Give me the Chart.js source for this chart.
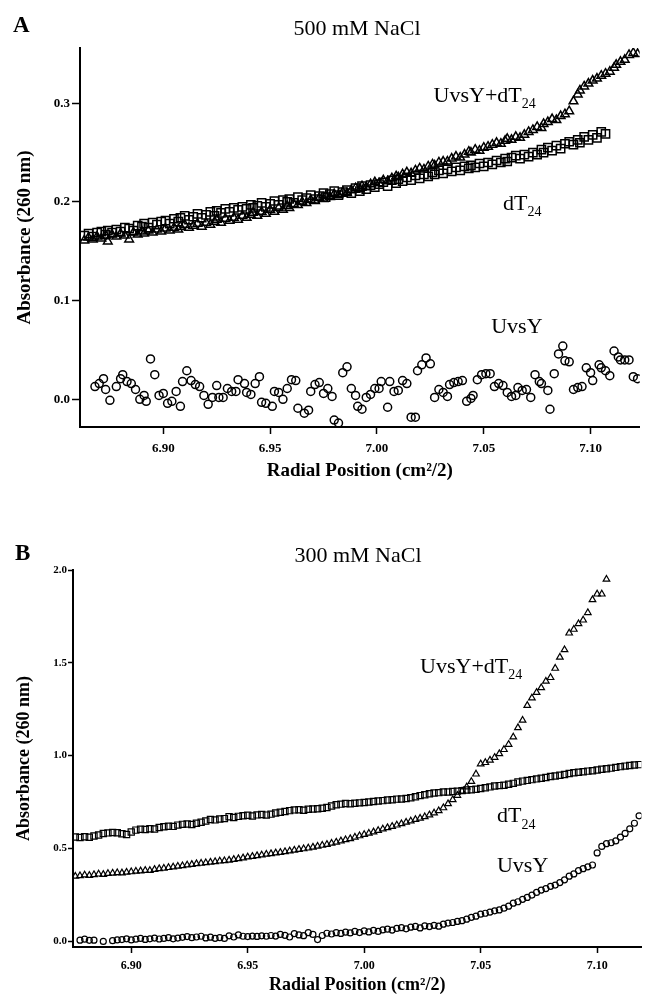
<!DOCTYPE html>
<html>
<head>
<meta charset="utf-8">
<script src="https://cdn.jsdelivr.net/npm/chart.js@4.4.1/dist/chart.umd.min.js"></script>
<style>
  html, body { margin: 0; padding: 0; background: #fff; }
  #wrap { position: relative; width: 647px; height: 998px; }
  canvas { position: absolute; left: 0; }
  #chartA { top: 0; }
  #chartB { top: 500px; }
</style>
</head>
<body>
<div id="wrap">
  <canvas id="chartA" width="647" height="500" style="width:647px;height:500px"></canvas>
  <canvas id="chartB" width="647" height="498" style="width:647px;height:498px"></canvas>
</div>
<script>
// ---- panel A : 500 mM NaCl ----
const ticksA_x = [6.90, 6.95, 7.00, 7.05, 7.10];
const ticksA_y = [0.0, 0.1, 0.2, 0.3];

// UvsY alone (circles)
const radialA_uvsy = [
  6.868, 6.870, 6.872, 6.873, 6.875, 6.878, 6.880, 6.881, 6.883, 6.885,
  6.887, 6.889, 6.891, 6.892, 6.894, 6.896, 6.898, 6.900, 6.902, 6.904,
  6.906, 6.908, 6.909, 6.911, 6.913, 6.915, 6.917, 6.919, 6.921, 6.923,
  6.925, 6.926, 6.928, 6.930, 6.932, 6.934, 6.935, 6.938, 6.939, 6.941,
  6.943, 6.945, 6.946, 6.948, 6.951, 6.952, 6.954, 6.956, 6.958, 6.960,
  6.962, 6.963, 6.966, 6.968, 6.969, 6.971, 6.973, 6.975, 6.977,
  6.979, 6.980, 6.982, 6.984, 6.986, 6.988, 6.990, 6.991, 6.993, 6.995,
  6.997, 6.999, 7.001, 7.002, 7.005, 7.006, 7.008, 7.010, 7.012, 7.014,
  7.016, 7.018, 7.019, 7.021, 7.023, 7.025, 7.027, 7.029, 7.031, 7.033,
  7.034, 7.036, 7.038, 7.040, 7.042, 7.044, 7.045, 7.047, 7.049, 7.051,
  7.053, 7.055, 7.057, 7.059, 7.061, 7.063, 7.065, 7.066, 7.068, 7.070,
  7.072, 7.074, 7.076, 7.077, 7.080, 7.081, 7.083, 7.085, 7.087, 7.088,
  7.090, 7.092, 7.094, 7.096, 7.098, 7.100, 7.101, 7.104, 7.105, 7.107,
  7.109, 7.111, 7.113, 7.114, 7.116, 7.118, 7.120, 7.122
];
const absA_uvsy = [
  0.013, 0.016, 0.021, 0.010, -0.001, 0.013, 0.021, 0.025, 0.018, 0.016,
  0.010, 0.000, 0.004, -0.002, 0.041, 0.025, 0.004, 0.006, -0.004, -0.002,
  0.008, -0.007, 0.018, 0.029, 0.019, 0.015, 0.013, 0.004, -0.005, 0.002,
  0.014, 0.002, 0.002, 0.011, 0.008, 0.008, 0.020, 0.016, 0.007, 0.005,
  0.016, 0.023, -0.003, -0.004, -0.007, 0.008, 0.007, 0.000, 0.011, 0.020,
  0.019, -0.009, -0.014, -0.011, 0.008, 0.015, 0.017, 0.006, 0.011,
  0.003, -0.021, -0.024, 0.027, 0.033, 0.011, 0.004, -0.007, -0.010, 0.002,
  0.005, 0.011, 0.011, 0.018, -0.008, 0.018, 0.008, 0.009, 0.019, 0.016,
  -0.018, -0.018, 0.029, 0.035, 0.042, 0.036, 0.002, 0.010, 0.007, 0.003,
  0.015, 0.017, 0.018, 0.019, -0.002, 0.001, 0.004, 0.020, 0.025, 0.026,
  0.026, 0.013, 0.016, 0.014, 0.007, 0.003, 0.004, 0.012, 0.009, 0.010,
  0.002, 0.025, 0.018, 0.016, 0.009, -0.010, 0.026, 0.046, 0.054, 0.039,
  0.038, 0.010, 0.012, 0.013, 0.032, 0.027, 0.019, 0.035, 0.032, 0.029,
  0.024, 0.049, 0.043, 0.040, 0.040, 0.040, 0.023, 0.021
];

// dT24 and UvsY+dT24 share these radial positions
const radialA = [
  6.863, 6.865, 6.867, 6.869, 6.871, 6.873, 6.874, 6.876, 6.878, 6.880,
  6.882, 6.884, 6.886, 6.888, 6.890, 6.891, 6.893, 6.895, 6.897, 6.899,
  6.901, 6.903, 6.905, 6.907, 6.908, 6.910, 6.912, 6.914, 6.916, 6.918,
  6.920, 6.922, 6.924, 6.925, 6.927, 6.929, 6.931, 6.933, 6.935, 6.937,
  6.939, 6.941, 6.942, 6.944, 6.946, 6.948, 6.950, 6.952, 6.954, 6.956,
  6.958, 6.959, 6.961, 6.963, 6.965, 6.967, 6.969, 6.971, 6.973, 6.975,
  6.976, 6.978, 6.980, 6.982, 6.984, 6.986, 6.988, 6.990, 6.992, 6.993,
  6.995, 6.997, 6.999, 7.001, 7.003, 7.005, 7.007, 7.009, 7.010, 7.012,
  7.014, 7.016, 7.018, 7.020, 7.022, 7.024, 7.026, 7.027, 7.029, 7.031,
  7.033, 7.035, 7.037, 7.039, 7.041, 7.043, 7.044, 7.046, 7.048, 7.050,
  7.052, 7.054, 7.056, 7.058, 7.060, 7.061, 7.063, 7.065, 7.067, 7.069,
  7.071, 7.073, 7.075, 7.077, 7.078, 7.080, 7.082, 7.084, 7.086, 7.088,
  7.090, 7.092, 7.094, 7.095, 7.097, 7.099, 7.101, 7.103, 7.105, 7.107,
  7.109, 7.111, 7.112, 7.114, 7.116, 7.118, 7.120, 7.122
];
const absA_dT24 = [
  0.166, 0.168, 0.165, 0.169, 0.170, 0.167, 0.171, 0.169, 0.172, 0.170,
  0.174, 0.173, 0.171, 0.176, 0.175, 0.178, 0.174, 0.179, 0.177, 0.180,
  0.181, 0.178, 0.183, 0.180, 0.184, 0.186, 0.182, 0.185, 0.188, 0.184,
  0.187, 0.190, 0.186, 0.191, 0.189, 0.193, 0.190, 0.194, 0.192, 0.195,
  0.193, 0.197, 0.194, 0.196, 0.199, 0.195, 0.198, 0.201, 0.197, 0.202,
  0.200, 0.203, 0.199, 0.205, 0.202, 0.204, 0.207, 0.203, 0.206, 0.209,
  0.205, 0.208, 0.211, 0.207, 0.210, 0.212, 0.209, 0.214, 0.211, 0.216,
  0.213, 0.217, 0.215, 0.218, 0.220, 0.216, 0.222, 0.219, 0.223, 0.221,
  0.225, 0.222, 0.227, 0.224, 0.228, 0.226, 0.230, 0.228, 0.232, 0.229,
  0.233, 0.231, 0.235, 0.232, 0.236, 0.234, 0.237, 0.235, 0.239, 0.236,
  0.240, 0.238, 0.242, 0.240, 0.244, 0.241, 0.245, 0.247, 0.244, 0.248,
  0.246, 0.250, 0.248, 0.253, 0.250, 0.255, 0.252, 0.257, 0.254, 0.259,
  0.261, 0.258, 0.263, 0.260, 0.266, 0.263, 0.268, 0.265, 0.271, 0.269
];
const absA_mix = [
  0.161, 0.164, 0.162, 0.165, 0.163, 0.166, 0.160, 0.167, 0.165, 0.168,
  0.166, 0.162, 0.169, 0.167, 0.170, 0.168, 0.171, 0.169, 0.172, 0.170,
  0.173, 0.171, 0.174, 0.172, 0.175, 0.177, 0.174, 0.176, 0.178, 0.175,
  0.179, 0.177, 0.180, 0.182, 0.179, 0.183, 0.181, 0.184, 0.182, 0.186,
  0.184, 0.187, 0.189, 0.186, 0.190, 0.188, 0.192, 0.190, 0.194, 0.192,
  0.196, 0.194, 0.198, 0.197, 0.200, 0.199, 0.202, 0.201, 0.204, 0.203,
  0.206, 0.205, 0.208, 0.207, 0.210, 0.209, 0.212, 0.214, 0.213, 0.216,
  0.215, 0.218, 0.220, 0.219, 0.222, 0.221, 0.224, 0.226, 0.225, 0.228,
  0.230, 0.229, 0.232, 0.234, 0.233, 0.236, 0.238, 0.237, 0.240, 0.241,
  0.241, 0.244, 0.246, 0.245, 0.248, 0.251, 0.250, 0.253, 0.252, 0.255,
  0.256, 0.258, 0.260, 0.259, 0.262, 0.264, 0.263, 0.266, 0.265, 0.268,
  0.271, 0.273, 0.276, 0.275, 0.279, 0.281, 0.284, 0.283, 0.287, 0.289,
  0.292, 0.302, 0.309, 0.313, 0.317, 0.320, 0.323, 0.325, 0.328, 0.330,
  0.332, 0.336, 0.339, 0.342, 0.344, 0.349, 0.351, 0.350
];

// ---- panel B : 300 mM NaCl ----
const ticksB_x = [6.90, 6.95, 7.00, 7.05, 7.10];
const ticksB_y = [0.0, 0.5, 1.0, 1.5, 2.0];

const radialB = [
  6.876, 6.878, 6.880, 6.882, 6.884, 6.886, 6.888, 6.890, 6.892, 6.894,
  6.896, 6.898, 6.900, 6.902, 6.904, 6.906, 6.908, 6.910, 6.912, 6.914,
  6.916, 6.918, 6.920, 6.922, 6.924, 6.926, 6.928, 6.930, 6.932, 6.934,
  6.936, 6.938, 6.940, 6.942, 6.944, 6.946, 6.948, 6.950, 6.952, 6.954,
  6.956, 6.958, 6.960, 6.962, 6.964, 6.966, 6.968, 6.970, 6.972, 6.974,
  6.976, 6.978, 6.980, 6.982, 6.984, 6.986, 6.988, 6.990, 6.992, 6.994,
  6.996, 6.998, 7.000, 7.002, 7.004, 7.006, 7.008, 7.010, 7.012, 7.014,
  7.016, 7.018, 7.020, 7.022, 7.024, 7.026, 7.028, 7.030, 7.032, 7.034,
  7.036, 7.038, 7.040, 7.042, 7.044, 7.046, 7.048, 7.050, 7.052, 7.054,
  7.056, 7.058, 7.060, 7.062, 7.064, 7.066, 7.068, 7.070, 7.072, 7.074,
  7.076, 7.078, 7.080, 7.082, 7.084, 7.086, 7.088, 7.090, 7.092, 7.094,
  7.096, 7.098, 7.100, 7.102, 7.104, 7.106, 7.108, 7.110, 7.112, 7.114,
  7.116, 7.118
];
const absB_uvsy = [
  null, 0.005, 0.010, 0.004, 0.005, null, -0.002, null, 0.002, 0.006,
  0.008, 0.012, 0.006, 0.010, 0.014, 0.009, 0.012, 0.016, 0.011, 0.014,
  0.019, 0.012, 0.016, 0.020, 0.024, 0.018, 0.022, 0.026, 0.017, 0.021,
  0.015, 0.019, 0.014, 0.028, 0.022, 0.033, 0.026, 0.024, 0.027, 0.025,
  0.028, 0.026, 0.030, 0.027, 0.036, 0.031, 0.022, 0.040, 0.033, 0.029,
  0.045, 0.036, 0.008, 0.030, 0.042, 0.038, 0.045, 0.041, 0.048, 0.044,
  0.052, 0.046, 0.055, 0.049, 0.058, 0.052, 0.060, 0.064, 0.059, 0.068,
  0.072, 0.066, 0.075, 0.079, 0.071, 0.082, 0.078, 0.085, 0.080, 0.091,
  0.097, 0.100, 0.106, 0.110, 0.118, 0.128, 0.134, 0.145, 0.150, 0.156,
  0.163, 0.168, 0.177, 0.188, 0.204, 0.212, 0.225, 0.235, 0.248, 0.262,
  0.275, 0.283, 0.295, 0.302, 0.315, 0.330, 0.350, 0.362, 0.380, 0.390,
  0.400, 0.410, 0.475, 0.510, 0.525, 0.530, 0.540, 0.560, 0.580, 0.605,
  0.635, 0.675
];
const absB_dT24 = [
  0.561, 0.558, 0.562, 0.560, 0.566, 0.572, 0.580, 0.583, 0.585, 0.584,
  0.578, 0.574, 0.588, 0.598, 0.603, 0.601, 0.605, 0.604, 0.612, 0.616,
  0.619, 0.618, 0.625, 0.629, 0.631, 0.628, 0.635, 0.640, 0.647, 0.655,
  0.653, 0.658, 0.660, 0.670, 0.666, 0.672, 0.675, 0.678, 0.674, 0.680,
  0.682, 0.679, 0.684, 0.690, 0.694, 0.698, 0.703, 0.707, 0.708, 0.705,
  0.710, 0.712, 0.713, 0.716, 0.720, 0.728, 0.735, 0.738, 0.741, 0.740,
  0.743, 0.745, 0.747, 0.750, 0.752, 0.755, 0.757, 0.760, 0.762, 0.765,
  0.766, 0.768, 0.772, 0.778, 0.784, 0.789, 0.794, 0.798, 0.800, 0.803,
  0.803, 0.806, 0.808, 0.811, 0.814, 0.816, 0.818, 0.822, 0.826, 0.831,
  0.836, 0.838, 0.840, 0.845, 0.850, 0.857, 0.862, 0.866, 0.870, 0.874,
  0.878, 0.882, 0.887, 0.890, 0.894, 0.898, 0.903, 0.907, 0.910, 0.913,
  0.916, 0.918, 0.922, 0.926, 0.929, 0.932, 0.936, 0.940, 0.943, 0.946,
  0.949, 0.951
];
const absB_mix = [
  0.349, 0.352, 0.356, 0.354, 0.358, 0.361, 0.359, 0.364, 0.366, 0.368,
  0.367, 0.371, 0.373, 0.376, 0.378, 0.381, 0.380, 0.386, 0.390, 0.392,
  0.396, 0.399, 0.403, 0.406, 0.410, 0.413, 0.417, 0.419, 0.422, 0.425,
  0.428, 0.431, 0.433, 0.436, 0.440, 0.444, 0.448, 0.453, 0.456, 0.460,
  0.464, 0.468, 0.471, 0.475, 0.478, 0.482, 0.486, 0.490, 0.494, 0.497,
  0.501, 0.506, 0.511, 0.516, 0.521, 0.527, 0.533, 0.540, 0.546, 0.552,
  0.560, 0.567, 0.574, 0.581, 0.588, 0.596, 0.604, 0.611, 0.618, 0.625,
  0.632, 0.640, 0.647, 0.655, 0.662, 0.670, 0.680, 0.690, 0.702, 0.718,
  0.740, 0.762, 0.785, 0.808, 0.830, 0.860, 0.900, 0.955, 0.962, 0.975,
  0.990, 1.010, 1.032, 1.060, 1.100, 1.150, 1.190, 1.270, 1.310, 1.340,
  1.365, 1.400, 1.420, 1.470, 1.530, 1.570, 1.660, 1.680, 1.710, 1.730,
  1.770, 1.840, 1.870, 1.870, 1.950
];

const SERIF = "'Liberation Serif', 'Times New Roman', serif";

// text drawn on top: panel letter, salt title and the curve labels (anchored in data units)
const notes = {
  id: 'notes',
  afterDraw(chart, args, opts) {
    const ctx = chart.ctx;
    const { x, y } = chart.scales;
    ctx.save();
    ctx.fillStyle = '#000';
    ctx.textBaseline = 'alphabetic';
    (opts.fixed || []).forEach(t => {
      ctx.font = t.font;
      ctx.textAlign = t.align || 'left';
      ctx.fillText(t.text, t.px, t.py);
    });
    ctx.textAlign = 'left';
    (opts.labels || []).forEach(n => {
      const px = x.getPixelForValue(n.x);
      const py = y.getPixelForValue(n.y);
      ctx.font = n.size + 'px ' + SERIF;
      ctx.fillText(n.text, px, py);
      if (n.sub) {
        const w = ctx.measureText(n.text).width;
        ctx.font = Math.round(n.size * 0.64) + 'px ' + SERIF;
        ctx.fillText(n.sub, px + w, py + n.size * 0.3);
      }
    });
    ctx.restore();
  }
};

function pts(xs, ys) {
  return ys.map((v, i) => ({ x: xs[i], y: v }));
}

function makePanel(canvas, p) {
  return new Chart(canvas, {
    type: 'scatter',
    data: {
      datasets: p.sets.map(s => ({
        data: pts(s.xs, s.ys),
        showLine: false,
        pointStyle: s.style,
        pointRadius: s.r,
        pointBorderWidth: s.bw,
        pointBorderColor: '#000',
        pointBackgroundColor: 'rgba(0,0,0,0)'
      }))
    },
    options: {
      responsive: false,
      animation: false,
      events: [],
      devicePixelRatio: 1,
      layout: { padding: p.pad },
      plugins: {
        legend: { display: false },
        tooltip: { enabled: false },
        notes: { fixed: p.fixed, labels: p.labels }
      },
      scales: {
        x: {
          type: 'linear',
          min: p.xMin, max: p.xMax,
          afterBuildTicks: s => { s.ticks = p.xTicks.map(v => ({ value: v })); },
          ticks: {
            autoSkip: false, maxRotation: 0,
            callback: v => v.toFixed(2),
            font: { family: SERIF, weight: 'bold', size: p.xTickSize },
            color: '#000', padding: p.xTickPad
          },
          grid: { drawOnChartArea: false, tickLength: p.xTickLen, tickColor: '#000', tickWidth: 1.5 },
          border: { color: '#000', width: 2 },
          title: {
            display: true, text: 'Radial Position (cm²/2)', color: '#000',
            font: { family: SERIF, weight: 'bold', size: p.titleSize },
            padding: { top: 0, bottom: p.xTitlePad }
          },
          afterFit: s => { s.height = p.xAxisH; }
        },
        y: {
          min: p.yMin, max: p.yMax,
          afterBuildTicks: s => { s.ticks = p.yTicks.map(v => ({ value: v })); },
          ticks: {
            callback: v => v.toFixed(1),
            font: { family: SERIF, weight: 'bold', size: p.yTickSize },
            color: '#000', padding: p.yTickPad
          },
          grid: { drawOnChartArea: false, tickLength: p.yTickLen, tickColor: '#000', tickWidth: 1.5 },
          border: { color: '#000', width: 2 },
          title: {
            display: true, text: 'Absorbance (260 nm)', color: '#000',
            font: { family: SERIF, weight: 'bold', size: p.titleSize },
            padding: { top: p.yTitlePad, bottom: 0 }
          },
          afterFit: s => { s.width = p.yAxisW; }
        }
      }
    },
    plugins: [notes]
  });
}

makePanel(document.getElementById('chartA'), {
  sets: [
    { xs: radialA_uvsy, ys: absA_uvsy, style: 'circle', r: 4, bw: 1.5 },
    { xs: radialA, ys: absA_dT24, style: 'rect', r: 5.8, bw: 1.5 },
    { xs: radialA, ys: absA_mix, style: 'triangle', r: 5, bw: 1.5 }
  ],
  xMin: 6.861, xMax: 7.123, yMin: -0.028, yMax: 0.356,
  xTicks: ticksA_x, yTicks: ticksA_y,
  pad: { top: 48, right: 4, left: 0, bottom: 0 },
  xAxisH: 73, yAxisW: 80,
  xTickSize: 13, yTickSize: 13, titleSize: 19,
  xTickLen: 7, xTickPad: 7, yTickLen: 8, yTickPad: 2,
  xTitlePad: 18, yTitlePad: 14,
  fixed: [
    { text: 'A', px: 13, py: 32, font: 'bold 23px ' + SERIF },
    { text: '500 mM NaCl', px: 357, py: 35, font: '22px ' + SERIF, align: 'center' }
  ],
  labels: [
    { text: 'UvsY+dT', sub: '24', x: 7.0265, y: 0.3015, size: 22 },
    { text: 'dT', sub: '24', x: 7.059, y: 0.192, size: 22 },
    { text: 'UvsY', x: 7.0535, y: 0.067, size: 22 }
  ]
});

makePanel(document.getElementById('chartB'), {
  sets: [
    { xs: radialB, ys: absB_uvsy, style: 'circle', r: 3, bw: 1.2 },
    { xs: radialB, ys: absB_dT24, style: 'rect', r: 4.4, bw: 1.2 },
    { xs: radialB, ys: absB_mix, style: 'triangle', r: 3.8, bw: 1.2 }
  ],
  xMin: 6.875, xMax: 7.119, yMin: -0.032, yMax: 2.0,
  xTicks: ticksB_x, yTicks: ticksB_y,
  pad: { top: 70, right: 0, left: 0, bottom: 0 },
  xAxisH: 51, yAxisW: 73,
  xTickSize: 12, yTickSize: 11, titleSize: 18,
  xTickLen: 6, xTickPad: 6, yTickLen: 5, yTickPad: 1,
  xTitlePad: 2, yTitlePad: 14,
  fixed: [
    { text: 'B', px: 15, py: 60, font: 'bold 23px ' + SERIF },
    { text: '300 mM NaCl', px: 358, py: 62, font: '22px ' + SERIF, align: 'center' }
  ],
  labels: [
    { text: 'UvsY+dT', sub: '24', x: 7.024, y: 1.446, size: 22 },
    { text: 'dT', sub: '24', x: 7.057, y: 0.642, size: 22 },
    { text: 'UvsY', x: 7.057, y: 0.372, size: 22 }
  ]
});
</script>
</body>
</html>
